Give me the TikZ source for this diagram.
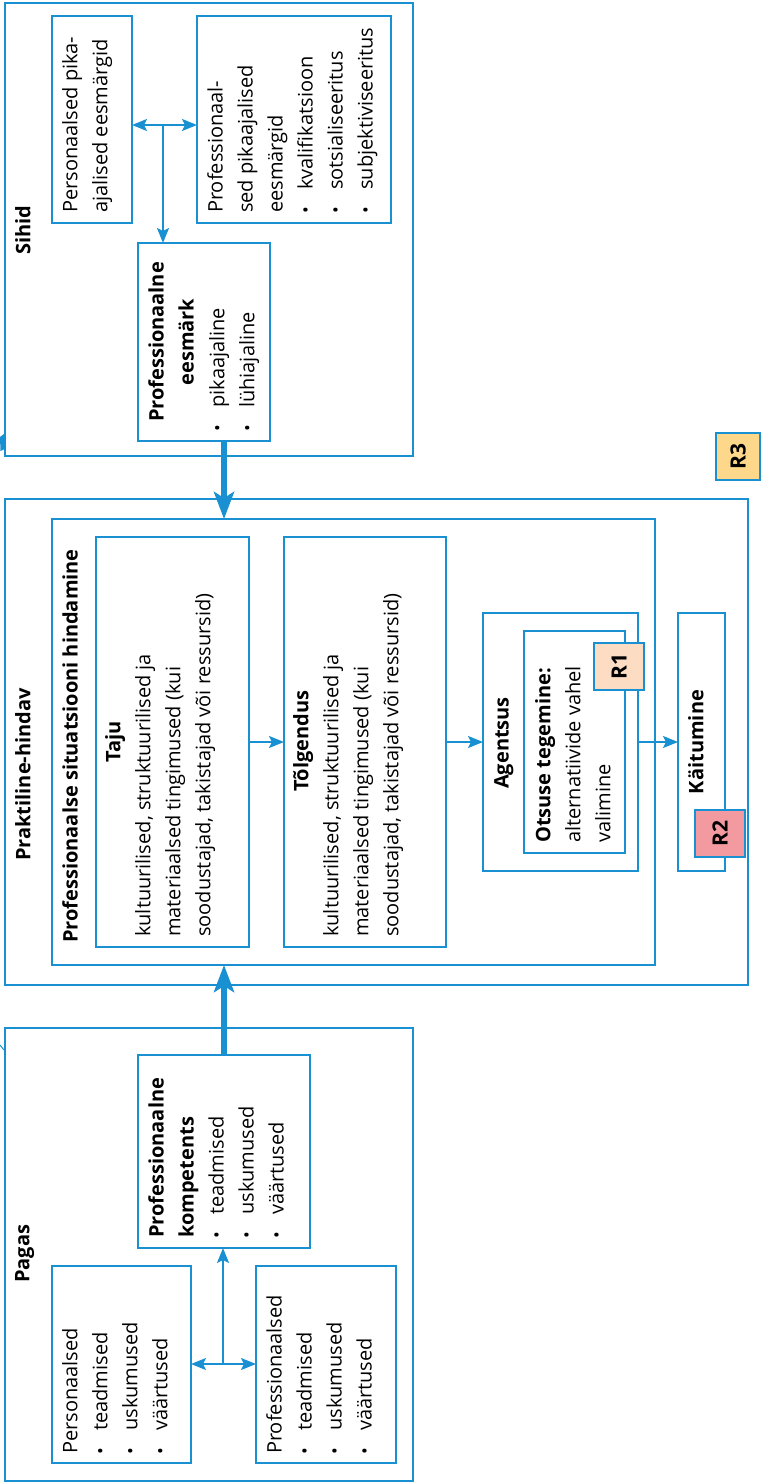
\documentclass[tikz,border=0pt]{standalone}
\usepackage{fontspec}
\setmainfont{Open Sans}
\usetikzlibrary{arrows.meta}
\definecolor{bl}{RGB}{24,144,210}
\definecolor{rone}{RGB}{252,221,195}
\definecolor{rtwo}{RGB}{242,154,160}
\definecolor{rthree}{RGB}{253,216,138}
\newcommand\fs{\fontsize{20}{30}\selectfont}
\newcommand\fsb{\fontsize{20}{30}\selectfont\bfseries}
\newcommand\blt{\makebox[23pt][l]{\hspace{-1pt}\fontsize{18}{18}\selectfont\raisebox{0.5pt}{•}}}
\newcommand\mybox[6][]{\node[box,#1,minimum width={#5-#3},minimum height={#6-#4}] (#2) at ({(#3+#5)/2},{(#4+#6)/2}) {};}
\begin{document}
\begin{tikzpicture}[x=1pt,y=-1pt,
  box/.style={draw=bl,line width=2pt,inner sep=0pt,outer sep=0pt},
  txt/.style={rotate=90,anchor=north west,align=left,inner sep=0pt,font=\fs},
  hdr/.style={rotate=90,anchor=north,align=center,inner sep=0pt,font=\fsb},
  rtag/.style={draw=bl,line width=2pt,rotate=90,inner sep=0pt,font=\fontsize{21}{21}\selectfont\bfseries},
  thin/.style={draw=bl,line width=2pt,-{Stealth[length=15pt,width=12pt,inset=3pt]}},
  thinboth/.style={draw=bl,line width=2pt,{Stealth[length=15pt,width=12pt,inset=3pt]}-{Stealth[length=15pt,width=12pt,inset=3pt]}},
  thick/.style={draw=bl,line width=5.5pt,-{Stealth[length=27pt,width=20pt,inset=6pt]}}
]
\useasboundingbox (0,0) rectangle (761,1482);

% ---------- Sihid ----------
\mybox{sihid}{5}{3}{413}{456}
\mybox{pers}{52}{16}{132}{223}
\mybox{prof}{197}{16}{391}{223}
\mybox{eesm}{138}{243}{270}{441}
\node[txt,font=\fsb] (lsihid) at (15,255) {Sihid};
\node[txt] (tpers) at (62,213) {Personaalsed pika-\\ajalised eesmärgid};
\node[txt] (tprof) at (207,213) {Professionaal-\\sed pikaajalised\\eesmärgid\\\blt kvalifikatsioon\\\blt sotsialiseeritus\\\blt subjektiviseeritus};
\node[hdr] (heesm) at (148,342) {Professionaalne\\eesmärk};
\node[txt] (teesm) at (209,431) {\blt pikaajaline\\\blt lühiajaline};
\coordinate (j1) at (163,125);
\draw[thinboth] (pers.east |- j1) -- (prof.west |- j1);
\draw[thin] (j1) -- (eesm.north -| j1);

% ---------- Praktiline-hindav ----------
\mybox{prak}{5}{499}{748}{985}
\mybox{sit}{52}{519}{655}{965}
\mybox{taju}{96}{537}{249}{947}
\mybox{tolg}{284}{537}{446}{947}
\mybox{agent}{483}{613}{638}{871}
\mybox{otsus}{524}{631}{625}{853}
\mybox{kait}{678}{613}{725}{871}
\node[txt,font=\fsb,anchor=north east] (lprak) at (15,688) {Praktiline-hindav};
\node[txt,font=\fsb] (lsit) at (62,943) {Professionaalse situatsiooni hindamine};
\node[hdr] (htaju) at (105,742) {Taju};
\node[txt] (ttaju) at (135,937) {kultuurilised, struktuurilised ja\\materiaalsed tingimused (kui\\soodustajad, takistajad või ressursid)};
\node[hdr] (htolg) at (293,741) {Tõlgendus};
\node[txt] (ttolg) at (323,937) {kultuurilised, struktuurilised ja\\materiaalsed tingimused (kui\\soodustajad, takistajad või ressursid)};
\node[hdr] (hagent) at (494,743) {Agentsus};
\node[txt] (totsus) at (535,843) {\textbf{Otsuse tegemine:}\\alternatiivide vahel\\valimine};
\node[hdr] (hkait) at (688,742) {Käitumine};
\node[rtag,fill=rone,minimum width=47pt,minimum height=50pt] (r1) at (619,666.5) {R1};
\node[rtag,fill=rtwo,minimum width=47pt,minimum height=50pt] (r2) at (720,833.5) {R2};
\node[rtag,fill=rthree,minimum width=47pt,minimum height=44pt] (r3) at (738,456.5) {R3};
\draw[thin] (taju.east) -- (tolg.west);
\draw[thin] (tolg.east) -- (agent.west);
\draw[thin] (agent.east) -- (kait.west);

% ---------- Pagas ----------
\mybox{pagas}{5}{1028}{413}{1481}
\mybox{komp}{138}{1055}{310}{1248}
\mybox{persp}{52}{1266}{191}{1463}
\mybox{profp}{256}{1266}{396}{1463}
\node[txt,font=\fsb] (lpagas) at (15,1283) {Pagas};
\node[txt] (tkomp) at (148,1238) {\textbf{Professionaalne}\\\textbf{kompetents}\\\blt teadmised\\\blt uskumused\\\blt väärtused};
\node[txt] (tpersp) at (62,1454) {Personaalsed\\\blt teadmised\\\blt uskumused\\\blt väärtused};
\node[txt] (tprofp) at (266,1454) {Professionaalsed\\\blt teadmised\\\blt uskumused\\\blt väärtused};
\coordinate (j2) at (223,1364);
\draw[thinboth] (persp.east |- j2) -- (profp.west |- j2);
\draw[thin] (j2) -- (komp.south -| j2);

% ---------- thick connectors ----------
\coordinate (c1) at (224,0);
\draw[thick] (eesm.south -| c1) -- (sit.north -| c1);
\draw[thick] (komp.north -| c1) -- (sit.south -| c1);

% ---------- edge fragments ----------
\fill[bl] (0,437) -- (4.5,433.5) -- (4.5,449) -- (0.5,451) -- cycle;
\draw[bl,line width=1pt] (0,1045) -- (4,1050);
\end{tikzpicture}
\end{document}
